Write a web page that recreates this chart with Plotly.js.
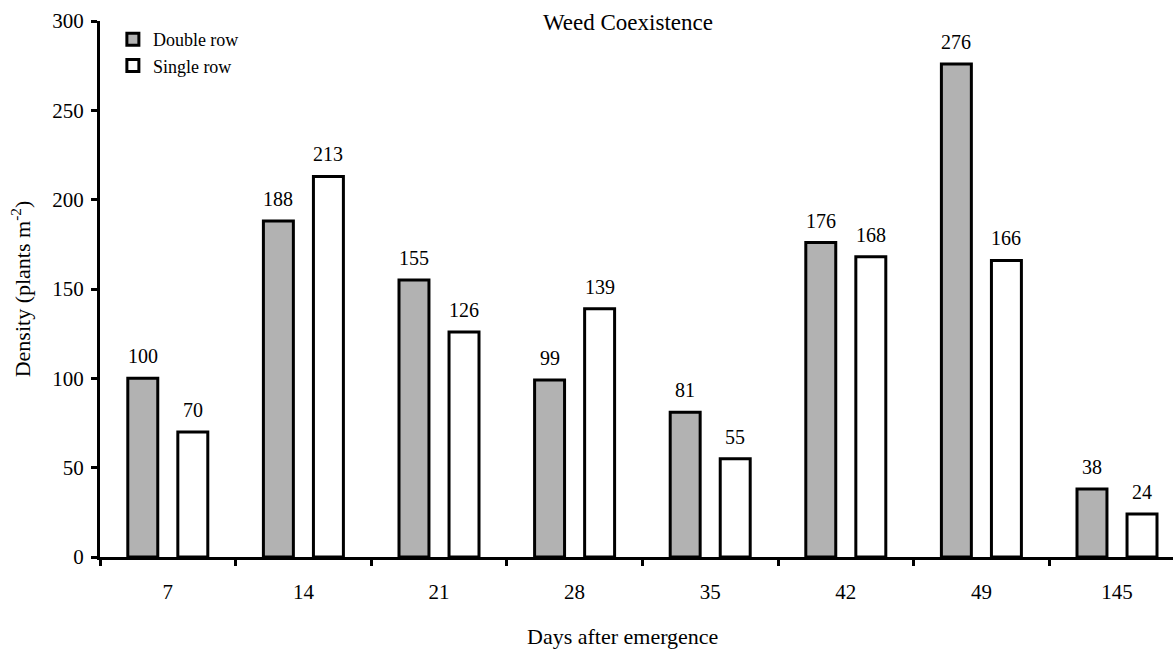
<!DOCTYPE html>
<html><head><meta charset="utf-8">
<script src="https://cdn.plot.ly/plotly-3.0.1.min.js"></script>
<style>html,body{margin:0;padding:0;background:#fff}#chart{width:1173px;height:655px}</style>
</head><body><div id="chart"></div>
<script>
const categories = ["7","14","21","28","35","42","49","145"];
const doubleRow = [100,188,155,99,81,176,276,38];
const singleRow = [70,213,126,139,55,168,166,24];
const yTicks = [0,50,100,150,200,250,300];

const font = "'Liberation Serif', 'Times New Roman', serif";
const barW = 0.221, offD = -0.295, offS = 0.074;
const traces = [
  {type:"bar", name:"Double row", x:categories, y:doubleRow,
   width:barW, offset:offD,
   marker:{color:"#b2b2b2", line:{color:"#000", width:3}}},
  {type:"bar", name:"Single row", x:categories, y:singleRow,
   width:barW, offset:offS,
   marker:{color:"#ffffff", line:{color:"#000", width:3}}}
];
const labelAnn = (vals, off) => vals.map((v,i) => ({
  x: i + off + barW/2, y: v, xref:"x", yref:"y", text:String(v), showarrow:false,
  xanchor:"center", yanchor:"bottom", yshift:9, font:{family:font,size:20,color:"#000"}
}));
const layout = {
  width:1173, height:655,
  margin:{l:100, r:0, t:21, b:98},
  paper_bgcolor:"#fff", plot_bgcolor:"#fff",
  font:{family:font, size:20, color:"#000"},
  barmode:"group",
  showlegend:true,
  legend:{x:0.012, y:1.0, xanchor:"left", yanchor:"top", bgcolor:"rgba(0,0,0,0)",
          font:{family:font,size:18,color:"#000"}, tracegroupgap:0},
  xaxis:{type:"category", range:[-0.5,7.413], tickson:"boundaries",
         ticks:"outside", ticklen:6, tickwidth:3, tickcolor:"#000",
         showline:true, linewidth:3, linecolor:"#000", showgrid:false, zeroline:false,
         tickfont:{family:font,size:21}, ticklabelstandoff:14},
  yaxis:{range:[0,300], tickvals:yTicks, ticktext:yTicks.map(String),
         ticks:"outside", ticklen:6, tickwidth:3, tickcolor:"#000",
         showline:true, linewidth:3, linecolor:"#000", showgrid:false, zeroline:false,
         tickfont:{family:font,size:21}, ticklabelstandoff:3,
         title:{text:"Density (plants m<sup>-2</sup>)", font:{family:font,size:22}, standoff:16}},
  annotations:[
    {text:"Weed Coexistence", xref:"paper", yref:"paper", x:0.492, y:0.998,
     xanchor:"center", yanchor:"middle", showarrow:false, font:{family:font,size:23,color:"#000"}},
    {text:"Days after emergence", xref:"paper", yref:"paper", x:0.4865, y:-0.149,
     xanchor:"center", yanchor:"middle", showarrow:false, font:{family:font,size:22,color:"#000"}}
  ].concat(labelAnn(doubleRow, offD), labelAnn(singleRow, offS))
};
Plotly.newPlot("chart", traces, layout, {displayModeBar:false, staticPlot:true});
</script></body></html>
